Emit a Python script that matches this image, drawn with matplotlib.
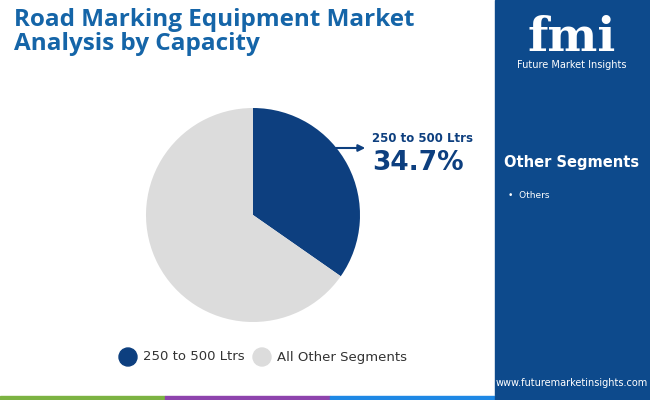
import matplotlib
matplotlib.use("Agg")
import matplotlib.pyplot as plt
from matplotlib.patches import Rectangle, Circle

categories = ["250 to 500 Ltrs", "All Other Segments"]
values = [34.7, 65.3]
colors = ["#0d3f7f", "#dcdcdc"]
title = "Road Marking Equipment Market\nAnalysis by Capacity"

W, H = 650, 400
fig = plt.figure(figsize=(6.5, 4.0), dpi=100)
bg = fig.add_axes([0, 0, 1, 1])
bg.set_xlim(0, W); bg.set_ylim(H, 0); bg.axis("off")
bg.add_patch(Rectangle((495, 0), 155, H, color="#0d4a8c"))
for x0, x1, c in [(0, 165, "#7cb342"), (165, 330, "#8e44ad"), (330, 495, "#1e88e5"), (495, 650, "#0d4a8c")]:
    bg.add_patch(Rectangle((x0, 396), x1 - x0, 4, color=c))
bg.text(14, 32, title, fontsize=17.5, fontweight="bold", color="#1565a8",
        va="center", ha="left", family="Open Sans", linespacing=1.05)
# logo
bg.text(572, 38, "fmi", fontsize=34, fontweight="bold", color="white", ha="center", va="center", family="DejaVu Serif")
bg.text(572, 65, "Future Market Insights", fontsize=7, color="white", ha="center", va="center")
bg.text(572, 163, "Other Segments", fontsize=10.5, fontweight="bold", color="white", ha="center", va="center")
bg.text(508, 196, "•  Others", fontsize=6.5, color="white", ha="left", va="center")
bg.text(572, 383, "www.futuremarketinsights.com", fontsize=7, color="white", ha="center", va="center")

# pie
R = 107
ax = fig.add_axes([(253 - R) / W, 1 - (215 + R) / H, 2 * R / W, 2 * R / H])
ax.pie(values, colors=colors, startangle=90, counterclock=False,
       wedgeprops=dict(linewidth=0))
ax.set_xlim(-1, 1); ax.set_ylim(-1, 1)
ax.set_aspect("equal")

bg.annotate("", xy=(368, 148), xytext=(333, 148),
            arrowprops=dict(arrowstyle="-|>", color="#0d3f7f", lw=1.5))
bg.text(372, 138, categories[0], fontsize=8.5, fontweight="bold", color="#0d3f7f", va="center")
bg.text(372, 163, f"{values[0]}%", fontsize=19, fontweight="bold", color="#0d3f7f", va="center")

# legend
bg.add_patch(Circle((128, 357), 9, color=colors[0]))
bg.text(143, 357, categories[0], fontsize=9.5, color="#333333", va="center")
bg.add_patch(Circle((262, 357), 9, color=colors[1]))
bg.text(277, 357, categories[1], fontsize=9.5, color="#333333", va="center")

fig.savefig("out.png", dpi=100)
